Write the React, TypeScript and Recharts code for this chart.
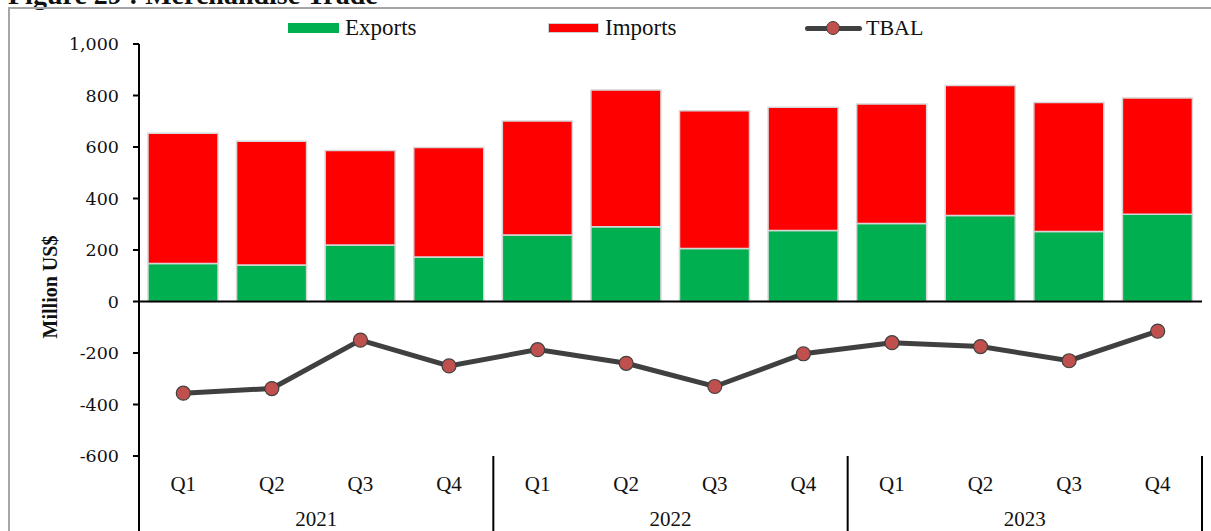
import { ComposedChart, Bar, Line, XAxis, YAxis, ReferenceLine } from 'recharts';

const quarters = ['Q1', 'Q2', 'Q3', 'Q4', 'Q1', 'Q2', 'Q3', 'Q4', 'Q1', 'Q2', 'Q3', 'Q4'];
const years = ['2021', '2022', '2023'];
const exportsVals = [148, 142, 219, 173, 258, 290, 206, 276, 303, 334, 272, 339];
const importsVals = [505, 480, 367, 425, 443, 531, 535, 478, 464, 505, 501, 451];
const tbalVals = [-356, -338, -150, -250, -187, -240, -330, -203, -160, -175, -230, -115];
const yTicks = [-600, -400, -200, 0, 200, 400, 600, 800, 1000];

const data = quarters.map((q, i) => ({
  q,
  Exports: exportsVals[i],
  Imports: importsVals[i],
  TBAL: tbalVals[i],
}));

const W = 1211;
const H = 531;
const LEFT = 139;
const RIGHT = 1202;
const PLOT_BOTTOM = 456;
const BAND = (RIGHT - LEFT) / quarters.length;
const serif = '"Liberation Serif", "Times New Roman", serif';
const tickSerif = '"DejaVu Serif", serif';

const QuarterTick = (props: any) => {
  const { x, payload } = props;
  const i = payload.index;
  return (
    <g>
      <text x={x} y={491} textAnchor="middle" fontSize={21} fontFamily={serif} fill="#111">
        {payload.value}
      </text>
      {i % 4 === 0 && (
        <>
          <line x1={x - BAND / 2} x2={x - BAND / 2} y1={PLOT_BOTTOM} y2={H} stroke="#000" strokeWidth={2} />
          <text x={x + BAND * 1.5} y={526} textAnchor="middle" fontSize={21} fontFamily={serif} fill="#111">
            {years[i / 4]}
          </text>
        </>
      )}
      {i === quarters.length - 1 && (
        <line x1={x + BAND / 2} x2={x + BAND / 2} y1={PLOT_BOTTOM} y2={H} stroke="#000" strokeWidth={2} />
      )}
    </g>
  );
};

const ValueTick = (props: any) => {
  const { x, y, payload } = props;
  return (
    <text x={x} y={y + 6} textAnchor="end" fontSize={17.5} fontFamily={tickSerif} fill="#111">
      {payload.value.toLocaleString('en-US')}
    </text>
  );
};

const LegendBox = () => (
  <div style={{ position: 'absolute', left: 0, top: 14, width: W, height: 30, fontFamily: serif, fontSize: 23, color: '#111' }}>
    <div style={{ position: 'absolute', left: 288, top: 9, width: 51, height: 10, background: '#00b050' }} />
    <div style={{ position: 'absolute', left: 345, top: 2, lineHeight: '23px' }}>Exports</div>
    <div style={{ position: 'absolute', left: 548, top: 9, width: 49, height: 8, background: '#ff0000', border: '1px solid #d0d0d0' }} />
    <div style={{ position: 'absolute', left: 605, top: 2, lineHeight: '23px' }}>Imports</div>
    <div style={{ position: 'absolute', left: 805, top: 12, width: 57, height: 5, background: '#404040', borderRadius: 3 }} />
    <div style={{ position: 'absolute', left: 826, top: 7, width: 14, height: 14, background: '#c0504d', borderRadius: '50%', border: '1px solid #404040', boxSizing: 'border-box' }} />
    <div style={{ position: 'absolute', left: 866, top: 2, lineHeight: '23px', fontSize: 22 }}>TBAL</div>
  </div>
);

const YLabel = () => (
  <text x={57} y={287} transform="rotate(-90 57 287)" textAnchor="middle" fontSize={20} fontWeight="bold" fontFamily={serif} fill="#111">
    Million US$
  </text>
);

export default function App() {
  return (
    <div style={{ position: 'absolute', left: 0, top: 0, width: W, height: H, overflow: 'hidden', background: '#fff', fontFamily: serif }}>
      <div style={{ position: 'absolute', left: 8, top: -19, fontFamily: serif, fontWeight: 'bold', fontSize: 28, lineHeight: '28px', color: '#111', whiteSpace: 'nowrap' }}>
        Figure 29 : Merchandise Trade
      </div>
      <div style={{ position: 'absolute', left: 8, top: 7, width: W, height: H, borderLeft: '2px solid #a6a6a6', borderTop: '2px solid #a6a6a6' }} />
      <div style={{ position: 'absolute', left: 0, top: 0 }}>
        <ComposedChart width={W} height={H} data={data} margin={{ top: 44, right: W - RIGHT, left: 9, bottom: 0 }} barSize={70}>
          <XAxis dataKey="q" interval={0} axisLine={false} tickLine={false} height={H - PLOT_BOTTOM} tick={<QuarterTick />} />
          <YAxis
            domain={[-600, 1000]}
            ticks={yTicks}
            width={LEFT - 9}
            axisLine={{ stroke: '#000', strokeWidth: 2 }}
            tickLine={{ stroke: '#000', strokeWidth: 2 }}
            tickSize={6}
            tickMargin={14}
            tick={<ValueTick />}
            label={<YLabel />}
          />
          <Bar dataKey="Exports" stackId="a" fill="#00b050" stroke="#d6d6d6" strokeWidth={1.5} isAnimationActive={false} />
          <Bar dataKey="Imports" stackId="a" fill="#ff0000" stroke="#d6d6d6" strokeWidth={1.5} isAnimationActive={false} />
          <ReferenceLine y={0} stroke="#000" strokeWidth={2} />
          <Line
            dataKey="TBAL"
            stroke="#404040"
            strokeWidth={5}
            dot={{ r: 7, fill: '#c0504d', stroke: '#404040', strokeWidth: 1.2 }}
            isAnimationActive={false}
          />
          <line x1={LEFT} x2={LEFT} y1={PLOT_BOTTOM} y2={H} stroke="#000" strokeWidth={2} />
        </ComposedChart>
      </div>
      <LegendBox />
    </div>
  );
}
